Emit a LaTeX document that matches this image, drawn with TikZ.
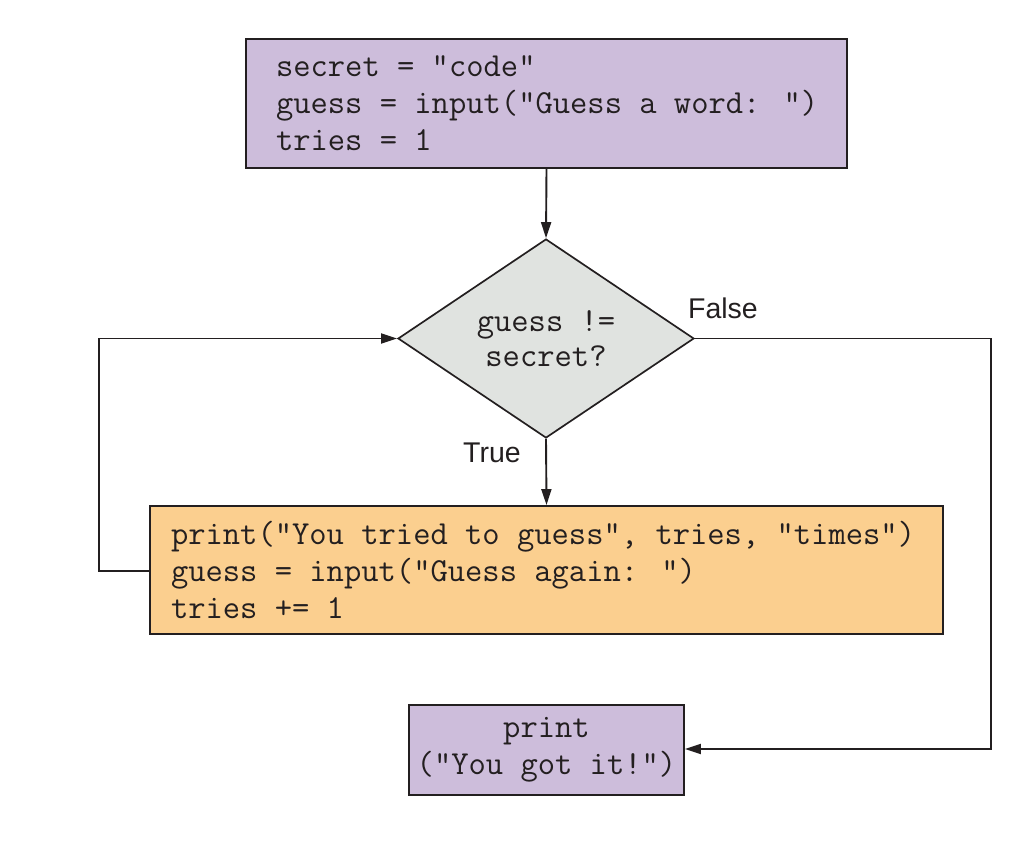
\documentclass[tikz,border=0pt]{standalone}
\usepackage{fontspec}
\newfontfamily\labelfont{Liberation Sans}
\usetikzlibrary{arrows.meta,shapes.geometric}
\definecolor{ink}{HTML}{231F20}
\definecolor{lav}{HTML}{CDBDDB}
\definecolor{grayfill}{HTML}{E0E3E0}
\definecolor{orangefill}{HTML}{FBCF8F}
\newcommand\codesize{\ttfamily\fontsize{33.6}{37}\selectfont}
\begin{document}
\begin{tikzpicture}[x=1pt,y=-1pt,
  box/.style={draw=ink,line width=1.9pt,rectangle,inner ysep=0pt,
    font=\codesize,text=ink,
    execute at begin node={\spaceskip=0pt\xspaceskip=0pt\hfuzz=100pt\relax}},
  decision/.style={draw=ink,line width=1.7pt,diamond,fill=grayfill,inner sep=0pt,
    minimum width=296pt,minimum height=199pt,align=center,
    font=\ttfamily\fontsize{33.6}{35}\selectfont,text=ink},
  lbl/.style={font=\labelfont\fontsize{28.5}{30}\selectfont,text=ink,inner sep=0pt},
  flow/.style={draw=ink,line width=1.9pt,-{Triangle[length=16pt,width=10pt]}}
]
\useasboundingbox (0,0) rectangle (1028,845);
\node[box,fill=lav,minimum width=601pt,minimum height=129pt,
  text width=541pt,inner xsep=30pt,align=left] (init) at (546.5,103.5)
  {\mbox{secret = "code"}\\\mbox{guess = input("Guess a word: ")}\\\mbox{tries = 1}};
\node[decision] (cond) at (546,338.5) {guess !=\\secret?};
\node[box,fill=orangefill,minimum width=793pt,minimum height=128pt,
  text width=751pt,inner xsep=21pt,align=left] (body) at (546.5,570)
  {\mbox{print("You tried to guess", tries, "times")}\\\mbox{guess = input("Guess again: ")}\\\mbox{tries += 1}};
\node[box,fill=lav,minimum width=275pt,minimum height=90pt,inner xsep=0pt,
  align=center] (done) at (546.5,750)
  {print\\("You got it!")};
\node[lbl] (lfalse) at (723,308) {False};
\node[lbl] (ltrue) at (492,453) {True};
\coordinate (loopL) at (99,571);
\coordinate (loopT) at (99,338.5);
\coordinate (falseR) at (991,338.5);
\coordinate (falseB) at (991,749);
\draw[flow] (init.south) -- (cond.north);
\draw[flow] (cond.south) -- (body.north);
\draw[flow] (body.west |- loopL) -- (loopL) -- (loopT) -- (cond.west);
\draw[flow] (cond.east) -- (falseR) -- (falseB) -- (done.east |- falseB);
\end{tikzpicture}
\end{document}
